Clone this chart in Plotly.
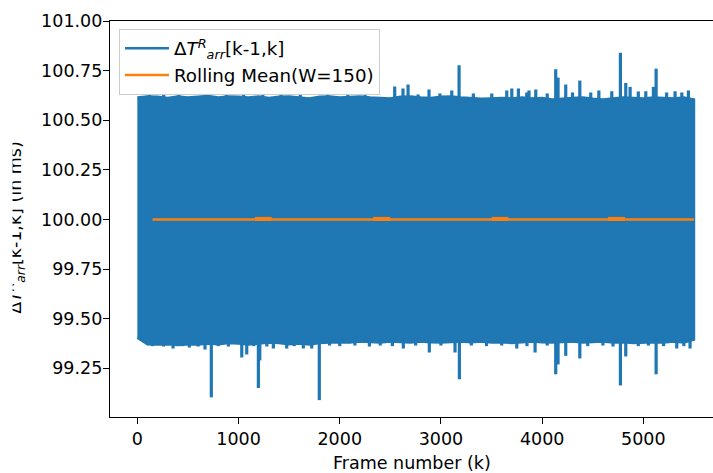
import plotly.graph_objects as go

# Envelope of the frame inter-arrival times, sampled every 100 frames
env_frames = list(range(0, 5501, 100))
env_upper = [
    100.615, 100.620, 100.618, 100.612, 100.620, 100.615, 100.618, 100.622, 100.615, 100.620, 100.618,
    100.615, 100.620, 100.612, 100.618, 100.620, 100.615, 100.610, 100.618, 100.620, 100.615,
    100.618, 100.620, 100.615, 100.612, 100.610, 100.618, 100.620, 100.615, 100.612, 100.618,
    100.620, 100.615, 100.610, 100.608, 100.610, 100.612, 100.610, 100.615, 100.610, 100.612,
    100.605, 100.610, 100.612, 100.615, 100.608, 100.605, 100.610, 100.615, 100.612, 100.610,
    100.615, 100.612, 100.610, 100.615, 100.605,
]
env_lower = [
    99.405, 99.372, 99.370, 99.372, 99.368, 99.372, 99.370, 99.375, 99.372, 99.378, 99.375,
    99.370, 99.375, 99.380, 99.378, 99.372, 99.375, 99.370, 99.378, 99.380, 99.382,
    99.380, 99.385, 99.382, 99.380, 99.385, 99.382, 99.380, 99.385, 99.382, 99.380,
    99.382, 99.385, 99.382, 99.385, 99.380, 99.382, 99.378, 99.382, 99.385, 99.382,
    99.380, 99.382, 99.385, 99.380, 99.382, 99.385, 99.380, 99.382, 99.378, 99.380,
    99.382, 99.380, 99.385, 99.380, 99.395,
]

# Isolated outliers above and below the band (frame, value in ms)
peak_frames = [120, 260, 410, 690, 880, 1050, 1240, 1420, 1610, 1880, 2080, 2250,
               2543, 2625, 2675, 2774, 2882, 2990, 3107, 3179, 3320, 3502, 3650, 3700,
               3765, 3848, 3870, 3937, 4050, 4134, 4157, 4233, 4300, 4372, 4480, 4560,
               4688, 4773, 4826, 4869, 4950, 5024, 5099, 5126, 5230, 5313, 5380, 5445]
peak_values = [100.632, 100.635, 100.63, 100.634, 100.632, 100.636, 100.63, 100.633,
               100.632, 100.635, 100.634, 100.64,
               100.67, 100.66, 100.68, 100.63, 100.655, 100.635, 100.65, 100.777, 100.635,
               100.635, 100.65, 100.66, 100.66, 100.64, 100.65, 100.655, 100.635, 100.757,
               100.715, 100.68, 100.64, 100.70, 100.64, 100.65, 100.646, 100.84, 100.688,
               100.668, 100.645, 100.646, 100.668, 100.76, 100.64, 100.646, 100.64, 100.65]
dip_frames = [150, 260, 353, 450, 514, 600, 669, 731, 800, 900, 1032, 1081, 1150, 1196,
              1210, 1280, 1344, 1476, 1550, 1640, 1723, 1798, 1900, 2000, 2150, 2293, 2400,
              2520, 2628, 2750, 2885, 3000, 3139, 3182, 3300, 3450, 3600, 3749, 3850, 3930,
              4050, 4134, 4157, 4233, 4372, 4450, 4600, 4700, 4773, 4826, 4950, 5050, 5126,
              5200, 5330, 5400, 5461]
dip_values = [99.362, 99.36, 99.35, 99.362, 99.355, 99.36, 99.345, 99.104, 99.362, 99.36,
              99.305, 99.32, 99.362, 99.151, 99.29, 99.36, 99.35, 99.35, 99.362, 99.35,
              99.35, 99.09, 99.365, 99.362, 99.365, 99.36, 99.365, 99.362, 99.35, 99.365,
              99.33, 99.365, 99.33, 99.195, 99.365, 99.362, 99.365, 99.35, 99.362, 99.33,
              99.365, 99.22, 99.27, 99.313, 99.30, 99.362, 99.365, 99.36, 99.164, 99.31,
              99.362, 99.365, 99.22, 99.362, 99.35, 99.362, 99.35]

# Rolling mean (window 150) and the short stretches where it sits slightly higher
rm_frames = [150, 5500]
rm_values = [100.0, 100.0]
bump_starts = [1163, 2330, 3502, 4651]
bump_ends = [1328, 2500, 3666, 4819]
bump_value = 100.003

BLUE = "#1f77b4"
ORANGE = "#ff7f0e"
FONT = "DejaVu Sans"
FS = 17.5


def nearest_edge(frame, edge):
    idx = min(range(len(env_frames)), key=lambda i: abs(env_frames[i] - frame))
    return edge[idx]


fig = go.Figure()

# Band of the jittering series
band_x = env_frames + env_frames[::-1]
band_y = env_upper + env_lower[::-1]
fig.add_trace(go.Scatter(
    x=band_x, y=band_y, mode="lines", fill="toself", fillcolor=BLUE,
    line=dict(color=BLUE, width=2.5), showlegend=False, hoverinfo="skip",
))

# Outlier spikes
sx, sy = [], []
for f, v in zip(peak_frames, peak_values):
    sx += [f, f, None]
    sy += [nearest_edge(f, env_upper) - 0.02, v, None]
for f, v in zip(dip_frames, dip_values):
    sx += [f, f, None]
    sy += [nearest_edge(f, env_lower) + 0.02, v, None]
fig.add_trace(go.Scatter(
    x=sx, y=sy, mode="lines", line=dict(color=BLUE, width=3.2),
    showlegend=False, hoverinfo="skip",
))

# Legend entry for the series
fig.add_trace(go.Scatter(
    x=[None], y=[None], mode="lines", line=dict(color=BLUE, width=2.5),
    name="Δ<i>T</i><sup><i>R</i></sup><sub><i>arr</i></sub>[k-1,k]",
))

# Rolling mean
fig.add_trace(go.Scatter(
    x=rm_frames, y=rm_values, mode="lines", line=dict(color=ORANGE, width=2.5),
    name="Rolling Mean(W=150)",
))
bx, by = [], []
for s, e in zip(bump_starts, bump_ends):
    bx += [s, e, None]
    by += [bump_value, bump_value, None]
fig.add_trace(go.Scatter(
    x=bx, y=by, mode="lines", line=dict(color=ORANGE, width=4),
    showlegend=False, hoverinfo="skip",
))

axis_common = dict(
    showline=True, linecolor="black", linewidth=1.3, ticks="outside",
    ticklen=6, tickwidth=1.3, tickcolor="black", showgrid=False, zeroline=False,
    tickfont=dict(family=FONT, size=FS, color="black"),
)

fig.update_layout(
    width=713, height=473,
    margin=dict(l=110, r=0, t=21, b=56),
    paper_bgcolor="white", plot_bgcolor="white",
    xaxis=dict(range=[-270, 5688], tickvals=[0, 1000, 2000, 3000, 4000, 5000],
               mirror=True, **axis_common),
    yaxis=dict(range=[99.005, 101.0],
               tickvals=[99.25, 99.5, 99.75, 100.0, 100.25, 100.5, 100.75, 101.0],
               ticktext=["99.25", "99.50", "99.75", "100.00", "100.25", "100.50", "100.75", "101.00"],
               ticklabelstandoff=-3, **axis_common),
    legend=dict(x=0.0149, y=0.98, xanchor="left", yanchor="top",
                bgcolor="white", bordercolor="#cccccc", borderwidth=1,
                font=dict(family=FONT, size=18.3, color="black"), itemwidth=44),
    annotations=[
        dict(text="Frame number (k)", xref="paper", yref="paper", x=0.5, y=-0.085,
             xanchor="center", yanchor="top", showarrow=False,
             font=dict(family=FONT, size=FS, color="black")),
        dict(text="Δ<i>T</i><sup><i>R</i></sup><sub><i>arr</i></sub>[k-1,k] (in ms)",
             xref="paper", yref="paper", x=-0.156, y=0.48, textangle=-90,
             xanchor="center", yanchor="middle", showarrow=False,
             font=dict(family=FONT, size=FS, color="black")),
        # page edge trims the top of the rotated axis title
        dict(text=" ", xref="paper", yref="paper", x=-110 / 603, y=0.5,
             xanchor="left", yanchor="middle", showarrow=False,
             width=11, height=380, borderpad=0, bgcolor="white",
             font=dict(family=FONT, size=FS, color="white")),
    ],
)

fig.write_html("out.html")
